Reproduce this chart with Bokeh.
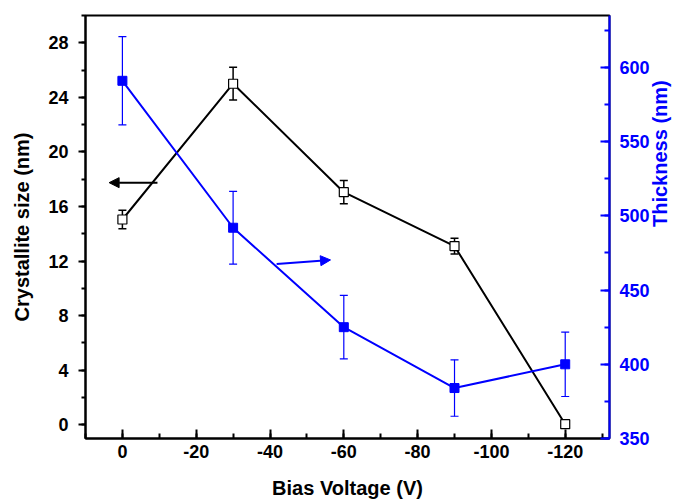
import math
from bokeh.plotting import figure
from bokeh.models import (Range1d, LinearAxis, Whisker, TeeHead, ColumnDataSource,
                          Arrow, NormalHead, SingleIntervalTicker, CustomJSTickFormatter)
from bokeh.embed import file_html
from bokeh.resources import INLINE

# ---- data ----
bias = [0, -30, -60, -90, -120]
crystallite_size = [15.05, 25.0, 17.05, 13.1, 0.05]
crystallite_err = [0.68, 1.2, 0.85, 0.57, 0.0]
thickness = [591, 492, 425, 384, 400]
thickness_err = [29.7, 24.5, 21.4, 19.0, 21.7]

x_ticks_interval = 20
left_ticks_interval = 4
right_ticks_interval = 50

FONT = "Liberation Sans"
BLUE = "#0000FF"
TICK_FS = "18px"
TITLE_FS = "20px"

p = figure(width=684, height=503, output_backend="svg", toolbar_location=None,
           x_range=Range1d(10, -132), y_range=Range1d(-1, 30),
           min_border_left=85, min_border_right=75, min_border_top=15, min_border_bottom=65)
p.background_fill_color = "white"
p.border_fill_color = "white"
p.outline_line_color = "black"
p.outline_line_width = 2
p.xgrid.visible = False
p.ygrid.visible = False
p.extra_y_ranges = {"thick": Range1d(350, 635)}

fmt = CustomJSTickFormatter(code="return tick.toFixed(0);")

# bottom axis
xa = p.xaxis[0]
xa.ticker = SingleIntervalTicker(interval=x_ticks_interval, num_minor_ticks=2)
xa.formatter = fmt
xa.axis_label = "Bias Voltage (V)"
xa.major_tick_in = 9; xa.major_tick_out = 0
xa.minor_tick_in = 5; xa.minor_tick_out = 0
xa.axis_line_width = 2; xa.major_tick_line_width = 2; xa.minor_tick_line_width = 2
xa.major_label_standoff = 6
xa.axis_label_standoff = 16
xa.major_label_text_font = FONT; xa.major_label_text_font_style = "bold"
xa.major_label_text_font_size = TICK_FS; xa.major_label_text_color = "black"
xa.axis_label_text_font = FONT; xa.axis_label_text_font_style = "bold"
xa.axis_label_text_font_size = TITLE_FS; xa.axis_label_text_color = "black"

# left axis
ya = p.yaxis[0]
ya.ticker = SingleIntervalTicker(interval=left_ticks_interval, num_minor_ticks=2)
ya.formatter = fmt
ya.axis_label = "Crystallite size (nm)"
ya.major_tick_in = 0; ya.major_tick_out = 7
ya.minor_tick_in = 0; ya.minor_tick_out = 4
ya.axis_line_width = 2; ya.major_tick_line_width = 2; ya.minor_tick_line_width = 2
ya.major_label_standoff = 10
ya.axis_label_standoff = 12
ya.major_label_text_font = FONT; ya.major_label_text_font_style = "bold"
ya.major_label_text_font_size = TICK_FS; ya.major_label_text_color = "black"
ya.axis_label_text_font = FONT; ya.axis_label_text_font_style = "bold"
ya.axis_label_text_font_size = TITLE_FS; ya.axis_label_text_color = "black"

# right axis
ra = LinearAxis(y_range_name="thick", axis_label="Thickness (nm)",
                ticker=SingleIntervalTicker(interval=right_ticks_interval, num_minor_ticks=2))
ra.formatter = fmt
try:
    ra.axis_label_orientation = math.pi / 2   # read bottom-to-top
except Exception:
    pass
ra.major_tick_in = 9; ra.major_tick_out = 0
ra.minor_tick_in = 5; ra.minor_tick_out = 0
ra.axis_line_width = 2; ra.major_tick_line_width = 2; ra.minor_tick_line_width = 2
ra.axis_line_color = BLUE; ra.major_tick_line_color = BLUE; ra.minor_tick_line_color = BLUE
ra.major_label_standoff = 10
ra.axis_label_standoff = 7
ra.major_label_text_font = FONT; ra.major_label_text_font_style = "bold"
ra.major_label_text_font_size = TICK_FS; ra.major_label_text_color = BLUE
ra.axis_label_text_font = FONT; ra.axis_label_text_font_style = "bold"
ra.axis_label_text_font_size = TITLE_FS; ra.axis_label_text_color = BLUE
p.add_layout(ra, "right")

# error bars
cs_src = ColumnDataSource(dict(
    x=[b for b, e in zip(bias, crystallite_err) if e > 0],
    lo=[v - e for v, e in zip(crystallite_size, crystallite_err) if e > 0],
    hi=[v + e for v, e in zip(crystallite_size, crystallite_err) if e > 0]))
th_src = ColumnDataSource(dict(
    x=bias,
    lo=[v - e for v, e in zip(thickness, thickness_err)],
    hi=[v + e for v, e in zip(thickness, thickness_err)]))

w1 = Whisker(source=cs_src, base="x", lower="lo", upper="hi", dimension="height",
             line_color="black", line_width=1.5, level="underlay",
             upper_head=TeeHead(size=8, line_color="black", line_width=1.5),
             lower_head=TeeHead(size=8, line_color="black", line_width=1.5))
p.add_layout(w1)
w2 = Whisker(source=th_src, base="x", lower="lo", upper="hi", dimension="height",
             y_range_name="thick", line_color=BLUE, line_width=1.2, level="underlay",
             upper_head=TeeHead(size=8, line_color=BLUE, line_width=1.2),
             lower_head=TeeHead(size=8, line_color=BLUE, line_width=1.2))
p.add_layout(w2)

# series
p.line(bias, crystallite_size, line_color="black", line_width=2)
p.scatter(bias, crystallite_size, marker="square", size=9, fill_color="white",
          line_color="black", line_width=1.2)
p.line(bias, thickness, line_color=BLUE, line_width=2, y_range_name="thick")
p.scatter(bias, thickness, marker="square", size=9, fill_color=BLUE,
          line_color=BLUE, y_range_name="thick")

# arrows pointing to the axes
p.add_layout(Arrow(x_start=-9.5, y_start=17.75, x_end=3.6, y_end=17.75,
                   line_color="black", line_width=2,
                   end=NormalHead(size=10, fill_color="black", line_color="black")))
p.add_layout(Arrow(x_start=-41.8, y_start=467.6, x_end=-56.4, y_end=470.3,
                   y_range_name="thick", line_color=BLUE, line_width=2,
                   end=NormalHead(size=10, fill_color=BLUE, line_color=BLUE)))

open("out.html", "w").write(file_html(p, INLINE))
